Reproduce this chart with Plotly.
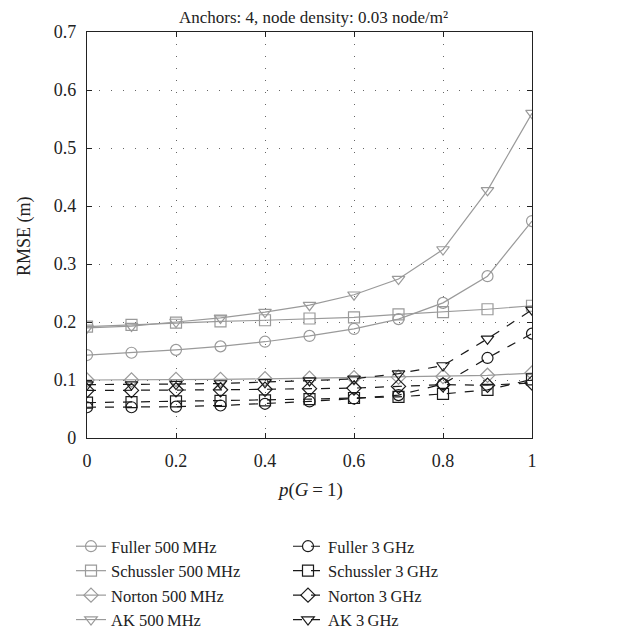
import plotly.graph_objects as go

x_vals = [0.0, 0.1, 0.2, 0.3, 0.4, 0.5, 0.6, 0.7, 0.8, 0.9, 1.0]

fuller_500 = [0.143, 0.147, 0.152, 0.158, 0.166, 0.176, 0.188, 0.205, 0.233, 0.279, 0.374]
schussler_500 = [0.192, 0.195, 0.199, 0.201, 0.203, 0.206, 0.208, 0.213, 0.217, 0.222, 0.228]
norton_500 = [0.100, 0.100, 0.101, 0.101, 0.102, 0.103, 0.104, 0.105, 0.106, 0.108, 0.112]
ak_500 = [0.190, 0.193, 0.200, 0.207, 0.217, 0.229, 0.247, 0.274, 0.325, 0.427, 0.560]

fuller_3g = [0.053, 0.053, 0.054, 0.056, 0.059, 0.063, 0.068, 0.074, 0.093, 0.138, 0.180]
schussler_3g = [0.061, 0.062, 0.063, 0.064, 0.065, 0.067, 0.069, 0.071, 0.076, 0.083, 0.101]
norton_3g = [0.082, 0.082, 0.083, 0.083, 0.084, 0.085, 0.086, 0.089, 0.092, 0.091, 0.095]
ak_3g = [0.092, 0.092, 0.093, 0.094, 0.096, 0.099, 0.102, 0.111, 0.125, 0.171, 0.221]

x_ticks = [0, 0.2, 0.4, 0.6, 0.8, 1]
y_ticks = [0, 0.1, 0.2, 0.3, 0.4, 0.5, 0.6, 0.7]

FONT = "Liberation Serif, DejaVu Serif, serif"
GRAY = "#9a9a9a"
BLACK = "#1a1a1a"
TXT = "#222222"

W, H = 611, 622  # page body has an 8px margin
L, R, T, B = 79, 87, 24, 192
PH = H - T - B
PW = W - L - R

series = [
    ("Fuller 500\u2009MHz", fuller_500, "circle-open", GRAY, "solid", "legend"),
    ("Schussler 500\u2009MHz", schussler_500, "square-open", GRAY, "solid", "legend"),
    ("Norton 500\u2009MHz", norton_500, "diamond-open", GRAY, "solid", "legend"),
    ("AK 500\u2009MHz", ak_500, "triangle-down-open", GRAY, "solid", "legend"),
    ("Fuller 3\u2009GHz", fuller_3g, "circle-open", BLACK, "dash", "legend2"),
    ("Schussler 3\u2009GHz", schussler_3g, "square-open", BLACK, "dash", "legend2"),
    ("Norton 3\u2009GHz", norton_3g, "diamond-open", BLACK, "dash", "legend2"),
    ("AK 3\u2009GHz", ak_3g, "triangle-down-open", BLACK, "dash", "legend2"),
]

fig = go.Figure()
for name, vals, sym, col, dash, lg in series:
    fig.add_trace(go.Scatter(
        x=x_vals, y=vals, name=name, mode="lines+markers", legend=lg,
        line=dict(color=col, width=1.2, dash=dash),
        marker=dict(symbol=sym, size=11, color=col, line=dict(width=1.2, color=col)),
    ))

axis_common = dict(
    showline=True, linecolor="#222222", linewidth=1.3, mirror="ticks",
    ticks="inside", ticklen=5, tickcolor="#222222", tickwidth=1,
    showgrid=True, gridcolor="#666666", griddash="1px,11px", gridwidth=1,
    zeroline=False, tickfont=dict(family=FONT, size=18, color=TXT),
    ticklabelstandoff=6,
)

fig.update_xaxes(range=[0, 1], tickvals=x_ticks, ticktext=[f"{v:g}" for v in x_ticks], **axis_common)
fig.update_yaxes(range=[0, 0.7], tickvals=y_ticks, ticktext=[f"{v:g}" for v in y_ticks], **axis_common)

fig.add_annotation(text="<i>p</i>(<i>G</i>\u2009=\u20091)", xref="paper", yref="paper",
                   x=0.5, y=-(482 - (T + PH)) / PH, xanchor="center", yanchor="middle",
                   showarrow=False, font=dict(family=FONT, size=19, color=TXT))
fig.add_annotation(text="RMSE (m)", xref="paper", yref="paper",
                   x=(16 - L) / PW, y=(T + PH - 228) / PH, xanchor="center", yanchor="middle",
                   textangle=-90, showarrow=False, font=dict(family=FONT, size=18, color=TXT))

legend_common = dict(
    orientation="v", xref="container", yref="container", yanchor="top", xanchor="left",
    font=dict(family=FONT, size=16.5, color=TXT), itemwidth=30, bgcolor="rgba(0,0,0,0)",
    tracegroupgap=0, traceorder="normal",
)

fig.update_layout(
    width=W, height=H,
    margin=dict(l=L, r=R, t=T, b=B, autoexpand=False),
    plot_bgcolor="white", paper_bgcolor="white",
    font=dict(family=FONT, color=TXT),
    title=dict(text="Anchors: 4, node density: 0.03 node/m\u00b2",
               font=dict(family=FONT, size=17, color=TXT),
               x=0.5, xanchor="center", y=1 - 9 / H, yanchor="middle", yref="container"),
    legend=dict(x=63 / W, y=1 - 521 / H, **legend_common),
    legend2=dict(x=280 / W, y=1 - 521 / H, **legend_common),
    showlegend=True,
)

fig.write_html("out.html")
